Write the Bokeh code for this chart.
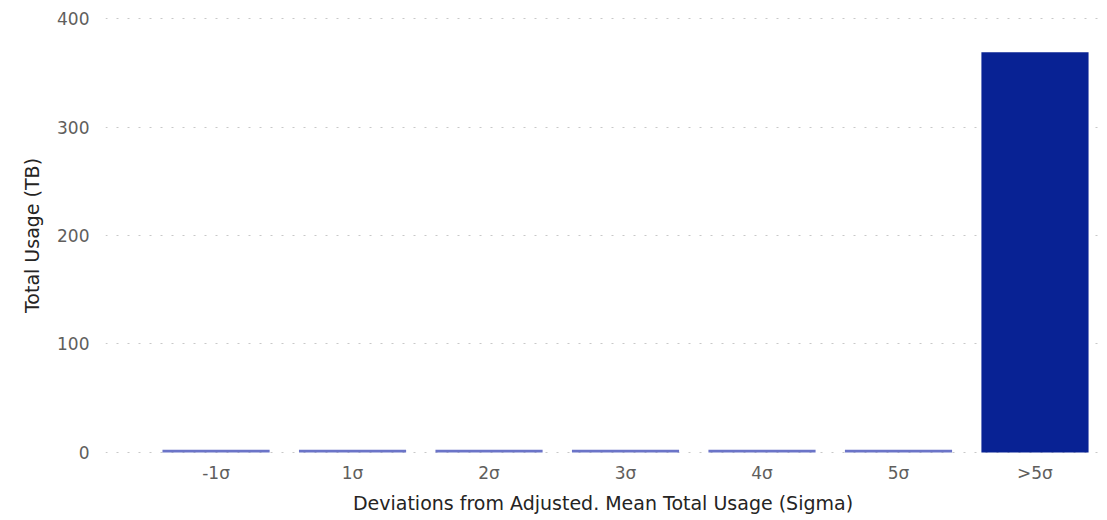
from bokeh.plotting import figure
from bokeh.models import Range1d, FixedTicker, ColumnDataSource
from bokeh.embed import file_html
from bokeh.resources import INLINE

categories = ["-1σ", "1σ", "2σ", "3σ", "4σ", "5σ", ">5σ"]
usage_tb = [2.5, 2.5, 2.5, 2.5, 2.5, 2.5, 369]
bar_colors = ["#6b74c8", "#6b74c8", "#6b74c8", "#6b74c8", "#6b74c8", "#6b74c8", "#082294"]
y_ticks = [0, 100, 200, 300, 400]

positions = list(range(len(categories)))
src = ColumnDataSource(dict(x=positions, top=usage_tb, color=bar_colors, cat=categories))

p = figure(frame_width=995, frame_height=436, output_backend="svg", toolbar_location=None,
           x_range=Range1d(-0.81, 6.48), y_range=Range1d(-1, 401))
p.min_border_left = 105
p.min_border_right = 0
p.min_border_top = 17
p.min_border_bottom = 62
p.outline_line_color = None
p.background_fill_color = "white"
p.border_fill_color = "white"

p.vbar(x="x", top="top", width=0.785, bottom=0, fill_color="color", line_color=None, source=src)

font = "DejaVu Sans"
p.xaxis.ticker = FixedTicker(ticks=positions)
p.xaxis.major_label_overrides = {i: c for i, c in zip(positions, categories)}
p.yaxis.ticker = FixedTicker(ticks=y_ticks)
for ax in (p.xaxis, p.yaxis):
    ax.axis_line_color = None
    ax.major_tick_line_color = None
    ax.minor_tick_line_color = None
    ax.major_label_text_font = font
    ax.major_label_text_font_size = "17px"
    ax.major_label_text_color = "#605e5c"
    ax.axis_label_text_font = font
    ax.axis_label_text_font_size = "19px"
    ax.axis_label_text_font_style = "normal"
    ax.axis_label_text_color = "#252423"

p.xaxis.axis_label = "Deviations from Adjusted. Mean Total Usage (Sigma)"
p.yaxis.axis_label = "Total Usage (TB)"
p.xaxis.major_label_standoff = 3
p.xaxis.axis_label_standoff = 6
p.yaxis.major_label_standoff = 10
p.yaxis.axis_label_standoff = 11

p.xgrid.grid_line_color = None
p.ygrid.grid_line_color = "#c8c8c8"
p.ygrid.grid_line_dash = "2 9"
p.ygrid.grid_line_width = 1

open("out.html", "w").write(file_html(p, INLINE))
